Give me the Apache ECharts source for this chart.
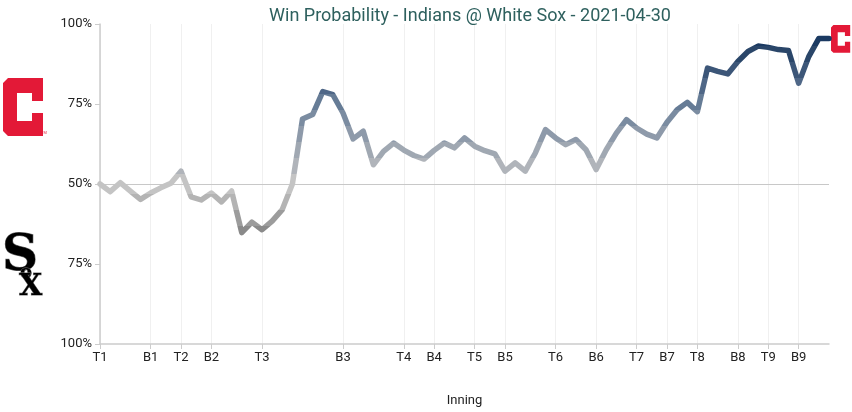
<!DOCTYPE html>
<html>
<head>
<meta charset="utf-8">
<script src="https://cdn.jsdelivr.net/npm/echarts@6/dist/echarts.min.js"></script>
<style>
html,body{margin:0;padding:0;background:#fff;}
#chart{width:852px;height:412px;}
</style>
</head>
<body>
<div id="chart"></div>
<script>
// Half-inning labels and the plate-appearance index where each starts
const innings = ['T1','B1','T2','B2','T3','B3','T4','B4','T5','B5','T6','B6','T7','B7','T8','B8','T9','B9'];
const inningStart = [0,5,8,11,16,24,30,33,37,40,45,49,53,56,59,63,66,69];
// Indians win probability (%) after each event
const winProb = [
  50, 47.6, 50.4, 47.8, 45.2, 47.2, 48.8, 50.2, 54, 46,
  45, 47.2, 44.4, 47.8, 34.8, 38.1, 35.7, 38.4, 42, 50,
  70.3, 71.7, 78.9, 77.9, 72.2, 64.1, 66.5, 56, 60.2, 62.8,
  60.6, 58.9, 57.8, 60.5, 62.8, 61.3, 64.4, 61.8, 60.4, 59.4,
  54, 56.6, 54, 59.7, 67, 64.4, 62.3, 63.9, 60.7, 54.5,
  60.7, 65.9, 70.1, 67.5, 65.6, 64.4, 69.3, 73.2, 75.5, 72.6,
  86.2, 85.2, 84.4, 88.3, 91.4, 93.1, 92.7, 92, 91.7, 81.5,
  89.8, 95.5, 95.5
];
const yTickValues = [0, 25, 50, 75, 100];
const yTickLabels = ['100%','75%','50%','75%','100%'];

const categories = winProb.map((v, i) => {
  const k = inningStart.indexOf(i);
  return k >= 0 ? innings[k] : '';
});

const chart = echarts.init(document.getElementById('chart'));
const isTick = (idx) => inningStart.indexOf(idx) >= 0;

// Indians block "C" outline (logo)
const cShape = [[5,0],[40,0],[40,23],[29,23],[29,15],[14,15],[14,43],[29,43],[29,35],[40,35],[40,58],[5,58],[0,53],[0,5]];
function scaled(pts, s, dx, dy){ return pts.map(p => [p[0]*s+dx, p[1]*s+dy]); }

chart.setOption({
  animation: false,
  title: {
    text: 'Win Probability - Indians @ White Sox - 2021-04-30',
    left: 465, top: 2, textAlign: 'center',
    textStyle: { fontFamily: 'Roboto', fontWeight: 'normal', fontSize: 18, color: '#2e605e' }
  },
  grid: { left: 100, right: 23, top: 24, bottom: 67 },
  xAxis: {
    type: 'category',
    data: categories,
    boundaryGap: false,
    name: 'Inning',
    nameLocation: 'middle',
    nameGap: 50,
    nameTextStyle: { fontFamily: 'Roboto', fontSize: 13, color: '#222' },
    axisLine: { lineStyle: { color: '#cccccc', width: 1.5 } },
    axisTick: { interval: isTick, length: 5, lineStyle: { color: '#cccccc' } },
    axisLabel: { interval: isTick, fontFamily: 'Roboto', fontSize: 13, color: '#222', margin: 7 },
    splitLine: { show: true, interval: isTick, lineStyle: { color: '#f0f0f0', width: 1 } }
  },
  yAxis: {
    type: 'value', min: 0, max: 100, interval: 25,
    axisLine: { show: true, lineStyle: { color: '#cccccc', width: 1.5 } },
    axisTick: { show: true, length: 5, lineStyle: { color: '#cccccc' } },
    axisLabel: {
      fontFamily: 'Roboto', fontSize: 13, color: '#222', margin: 8,
      formatter: v => yTickLabels[yTickValues.indexOf(v)]
    },
    splitLine: { show: false }
  },
  visualMap: {
    show: false, type: 'piecewise', seriesIndex: 0, dimension: 1,
    pieces: [
      { lt: 30, color: '#707070' },
      { gte: 30, lt: 37, color: '#8a8a8a' },
      { gte: 37, lt: 42, color: '#9c9c9c' },
      { gte: 42, lt: 47, color: '#b4b4b4' },
      { gte: 47, lt: 53, color: '#c4c4c4' },
      { gte: 53, lt: 58, color: '#b0b4ba' },
      { gte: 58, lt: 63, color: '#a0a8b2' },
      { gte: 63, lt: 68, color: '#8e9aaa' },
      { gte: 68, lt: 73, color: '#7b8ca1' },
      { gte: 73, lt: 78, color: '#667c96' },
      { gte: 78, lt: 83, color: '#4f6787' },
      { gte: 83, lt: 88, color: '#3c5678' },
      { gte: 88, lt: 93, color: '#2a4669' },
      { gte: 93, color: '#1b3a62' }
    ]
  },
  series: [{
    type: 'line',
    data: winProb,
    symbol: 'none',
    lineStyle: { width: 5.5, cap: 'round', join: 'round' },
    z: 5,
    markLine: {
      silent: true, symbol: 'none', label: { show: false },
      lineStyle: { color: '#c8c8c8', width: 1.2, type: 'solid' },
      data: [{ yAxis: 50 }],
      z: 1
    }
  }],
  graphic: [
    { type: 'polygon', shape: { points: scaled(cShape, 1, 3, 78) }, style: { fill: '#e31937' } },
    { type: 'text', x: 41, y: 131, style: { text: 'TM', fontSize: 4, fill: '#e31937' } },
    { type: 'polygon', shape: { points: scaled(cShape, 0.48, 831, 25) }, style: { fill: '#e31937' } },
    { type: 'text', x: 2, y: 232, style: { text: 'S', fontFamily: 'DejaVu Serif', fontWeight: 'bold', fontSize: 50, fill: '#000', stroke: '#777', lineWidth: 1 } },
    { type: 'text', x: 20, y: 264, style: { text: 'o', fontFamily: 'DejaVu Serif', fontWeight: 'bold', fontSize: 18, fill: '#000', stroke: '#777', lineWidth: 0.8 } },
    { type: 'text', x: 19, y: 272, style: { text: 'X', fontFamily: 'DejaVu Serif', fontWeight: 'bold', fontSize: 30, fill: '#000', stroke: '#777', lineWidth: 0.8 } }
  ]
});
</script>
</body>
</html>
